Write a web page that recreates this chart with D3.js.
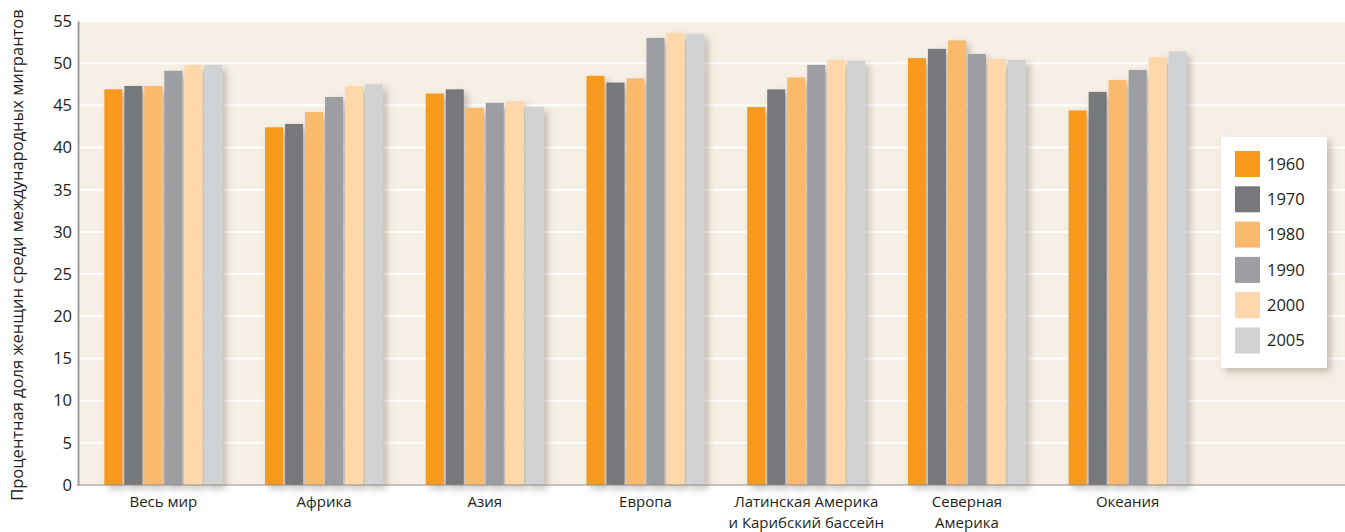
<!DOCTYPE html>
<html lang="ru">
<head>
<meta charset="utf-8">
<script src="https://cdn.jsdelivr.net/npm/d3@7"></script>
<style>
  html, body { margin: 0; padding: 0; background: #ffffff; }
  svg { display: block; }
  text { font-family: "Open Sans", "Noto Sans", sans-serif; fill: #231f20; }
</style>
</head>
<body>
<svg id="chart" width="1345" height="532"></svg>
<script>
// Share of women among international migrants, by region and year (%)
const regions = [
  "Весь мир",
  "Африка",
  "Азия",
  "Европа",
  "Латинская Америка|и Карибский бассейн",
  "Северная|Америка",
  "Океания"
];
const years = ["1960", "1970", "1980", "1990", "2000", "2005"];

const share1960 = [46.9, 42.4, 46.4, 48.5, 44.8, 50.6, 44.4];
const share1970 = [47.3, 42.8, 46.9, 47.7, 46.9, 51.7, 46.6];
const share1980 = [47.3, 44.2, 44.7, 48.2, 48.3, 52.7, 48.0];
const share1990 = [49.1, 46.0, 45.3, 53.0, 49.8, 51.1, 49.2];
const share2000 = [49.8, 47.3, 45.5, 53.6, 50.4, 50.5, 50.7];
const share2005 = [49.8, 47.5, 44.8, 53.5, 50.3, 50.4, 51.4];

const yTicks = [0, 5, 10, 15, 20, 25, 30, 35, 40, 45, 50, 55];
const yLabel = "Процентная доля женщин среди международных мигрантов";

const seriesByYear = [share1960, share1970, share1980, share1990, share2000, share2005];
const colors = ["#f7991d", "#77787b", "#fbb96c", "#9d9ea1", "#fed7aa", "#d1d2d4"];

const plot = { left: 78, right: 1345, top: 21, bottom: 485 };

const svg = d3.select("#chart");

// soft drop shadow used by the bar groups and the legend box
const defs = svg.append("defs");
const shadow = defs.append("filter").attr("id", "shadow")
  .attr("x", "-20%").attr("y", "-20%").attr("width", "150%").attr("height", "150%");
shadow.append("feDropShadow")
  .attr("dx", 4).attr("dy", 4).attr("stdDeviation", 3.5)
  .attr("flood-color", "#6b5a48").attr("flood-opacity", 0.35);

const y = d3.scaleLinear().domain([0, 55]).range([plot.bottom, plot.top]);
const x0 = d3.scaleBand().domain(regions).range([83, 1208]);
const x1 = d3.scaleBand().domain(years).range([0, 118]).paddingInner(0.1);
const groupOffset = (x0.bandwidth() - 118) / 2;
const color = d3.scaleOrdinal().domain(years).range(colors);

// plot background
svg.append("rect")
  .attr("x", plot.left).attr("y", plot.top)
  .attr("width", plot.right - plot.left).attr("height", plot.bottom - plot.top)
  .attr("fill", "#f6efe6");

// horizontal grid
svg.append("g")
  .selectAll("line")
  .data(yTicks.filter(t => t > 0))
  .join("line")
  .attr("x1", plot.left).attr("x2", plot.right)
  .attr("y1", d => y(d)).attr("y2", d => y(d))
  .attr("stroke", "#ffffff").attr("stroke-width", 2);

// bars
const groups = svg.append("g")
  .selectAll("g")
  .data(regions.map((r, i) => ({ region: r, values: years.map((yr, j) => ({ year: yr, value: seriesByYear[j][i] })) })))
  .join("g")
  .attr("transform", d => `translate(${x0(d.region) + groupOffset},0)`)
  .attr("filter", "url(#shadow)");

groups.selectAll("rect")
  .data(d => d.values)
  .join("rect")
  .attr("x", d => x1(d.year))
  .attr("width", x1.bandwidth())
  .attr("y", d => y(d.value))
  .attr("height", d => y(0) - y(d.value))
  .attr("fill", d => color(d.year));

// y axis
const yAxis = d3.axisLeft(y).tickValues(yTicks).tickSize(0).tickPadding(6);
const gy = svg.append("g").attr("transform", `translate(${plot.left},0)`).call(yAxis);
gy.select(".domain").attr("stroke", "#a19f9d").attr("stroke-width", 2);
gy.selectAll(".tick text")
  .attr("font-size", 16.5)
  .style("font-family", "\"Open Sans\", sans-serif")
  .attr("fill", "#231f20");

// baseline
svg.append("line")
  .attr("x1", plot.left - 1).attr("x2", plot.right)
  .attr("y1", y(0)).attr("y2", y(0))
  .attr("stroke", "#8f8d8b").attr("stroke-width", 1.2);

// category labels (two-line where needed)
const xAxis = d3.axisBottom(x0).tickSize(0).tickPadding(0).tickFormat("");
const gx = svg.append("g").attr("transform", `translate(0,${plot.bottom})`).call(xAxis);
gx.select(".domain").remove();
gx.selectAll(".tick").append("text")
  .attr("text-anchor", "middle")
  .attr("font-size", 15)
  .attr("fill", "#231f20")
  .each(function (d) {
    const lines = d.split("|");
    d3.select(this).selectAll("tspan")
      .data(lines)
      .join("tspan")
      .attr("x", 0)
      .attr("y", (l, i) => 22 + i * 20.5)
      .text(l => l);
  });

// y axis title
svg.append("text")
  .attr("transform", `translate(23,${(plot.top + plot.bottom) / 2 + 2}) rotate(-90)`)
  .attr("text-anchor", "middle")
  .attr("font-size", 16.5)
  .text(yLabel);

// legend
const legend = svg.append("g").attr("transform", "translate(1221,137)");
legend.append("rect")
  .attr("width", 106).attr("height", 231)
  .attr("fill", "#ffffff")
  .attr("filter", "url(#shadow)");
const items = legend.selectAll("g.item")
  .data(years)
  .join("g")
  .attr("class", "item")
  .attr("transform", (d, i) => `translate(14,${14 + i * 35.3})`);
items.append("rect")
  .attr("width", 25).attr("height", 26)
  .attr("fill", d => color(d));
items.append("text")
  .attr("x", 32).attr("y", 13).attr("dy", "0.35em")
  .attr("font-size", 16.5)
  .text(d => d);
</script>
</body>
</html>
